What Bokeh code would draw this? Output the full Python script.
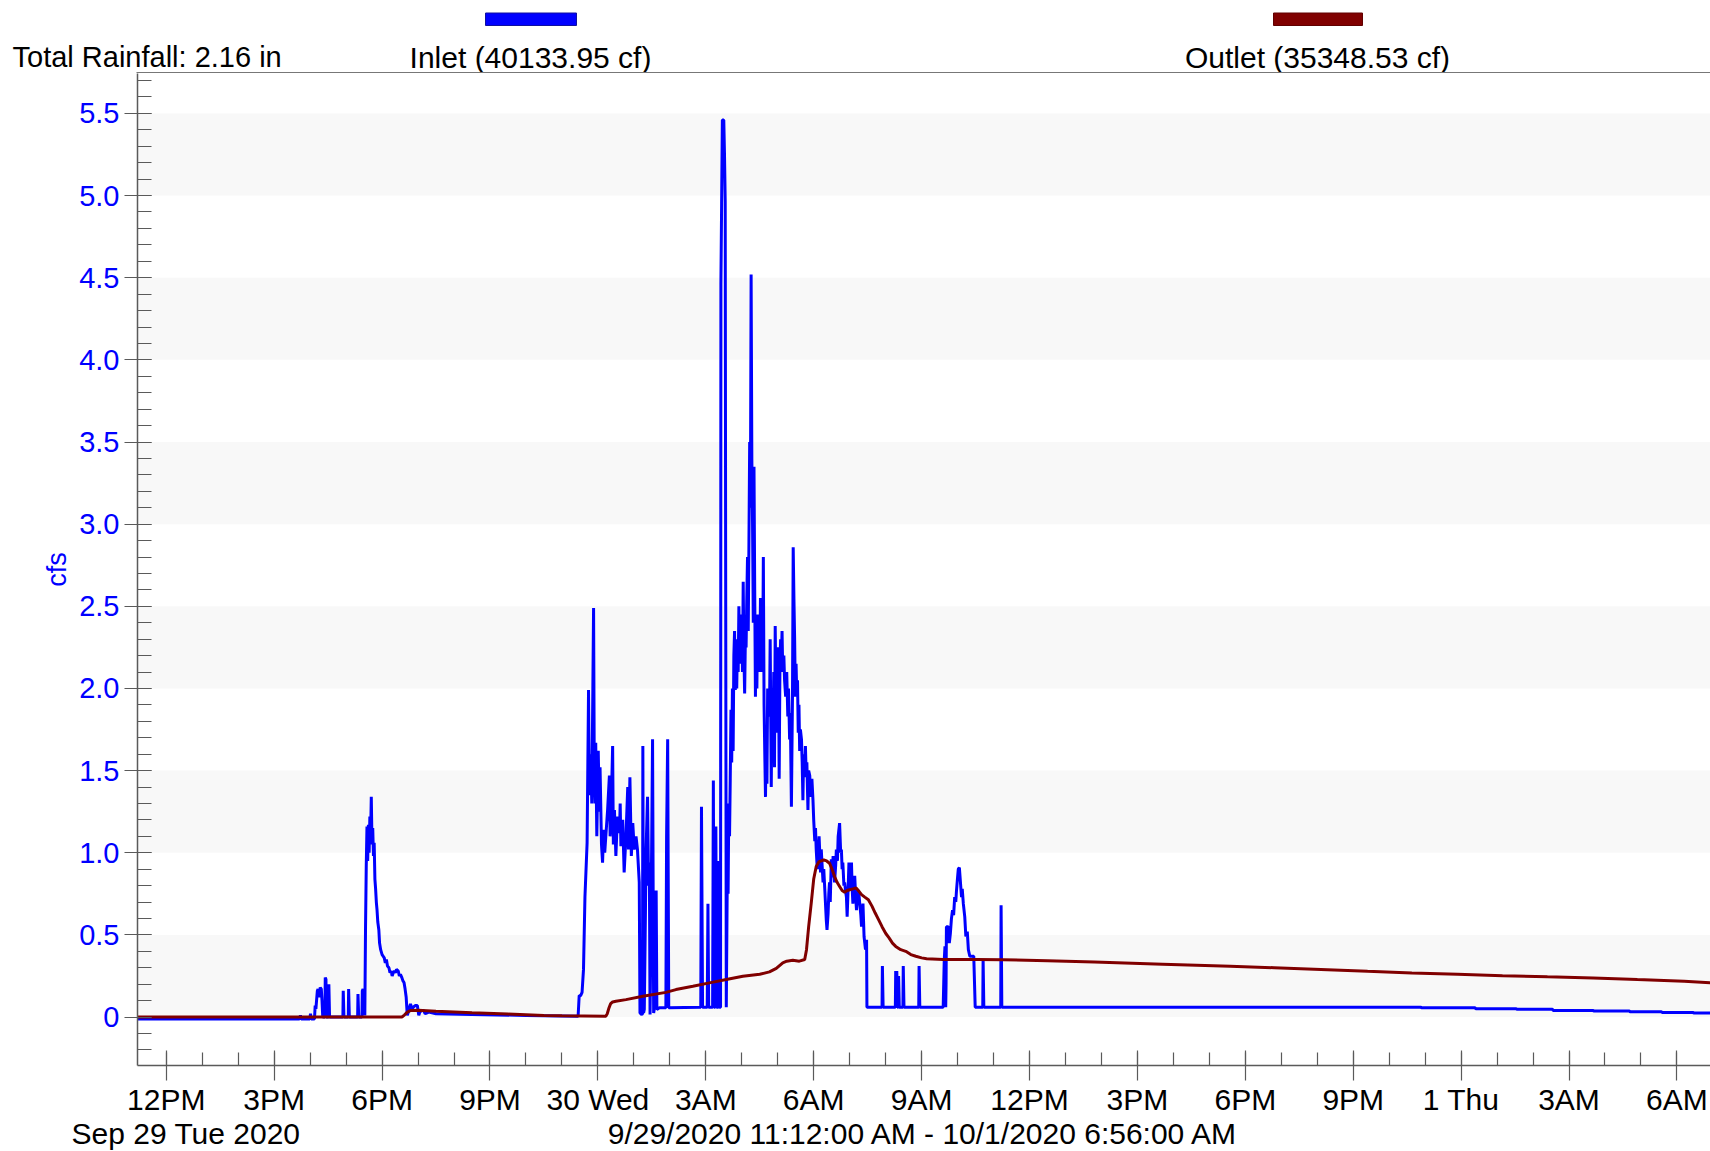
from bokeh.plotting import figure
from bokeh.layouts import column
from bokeh.models import FixedTicker, PrintfTickFormatter, BoxAnnotation, Range1d
from bokeh.core.properties import value
from bokeh.embed import file_html
from bokeh.resources import INLINE

# ---------------- data (x = hours since 2020-09-29 00:00) ----------------
start_hour = 11.2          # 9/29/2020 11:12 AM
end_hour = 54.9333         # 10/1/2020 6:56 AM

x_tick_hours = [12, 15, 18, 21, 24, 27, 30, 33, 36, 39, 42, 45, 48, 51, 54]
x_tick_labels = ["12PM", "3PM", "6PM", "9PM", "30 Wed", "3AM", "6AM", "9AM",
                 "12PM", "3PM", "6PM", "9PM", "1 Thu", "3AM", "6AM"]
y_ticks = [0, 0.5, 1.0, 1.5, 2.0, 2.5, 3.0, 3.5, 4.0, 4.5, 5.0, 5.5]
band_bottoms = [0, 1.0, 2.0, 3.0, 4.0, 5.0]

inlet_points = [
    (11.20, -0.012), (15.70, -0.012), (15.73, 0.01), (15.75, -0.012), (15.99, -0.012),
    (16.01, 0.02), (16.03, -0.012), (16.12, -0.012),
    # first storm
    (16.14, 0.07), (16.16, 0.05), (16.20, 0.16), (16.22, 0.17), (16.25, 0.12), (16.28, 0.18),
    (16.31, 0.17), (16.33, 0.10), (16.35, 0.0), (16.41, 0.0), (16.42, 0.24), (16.44, 0.23),
    (16.45, 0.0), (16.51, 0.0), (16.52, 0.20), (16.54, 0.0), (16.91, 0.0), (16.92, 0.16),
    (16.94, 0.0), (17.06, 0.0), (17.07, 0.17), (17.09, 0.0), (17.32, 0.0), (17.33, 0.14),
    (17.35, 0.0), (17.44, 0.0), (17.45, 0.16), (17.47, 0.17), (17.49, 0.15), (17.50, 0.17),
    (17.52, 0.01), (17.54, 0.55), (17.56, 0.92), (17.58, 1.16), (17.60, 0.95), (17.62, 1.17),
    (17.64, 1.00), (17.66, 1.22), (17.68, 1.10), (17.70, 1.34), (17.72, 1.05), (17.74, 1.15),
    (17.76, 0.98), (17.78, 1.06), (17.80, 0.84), (17.82, 0.78), (17.84, 0.70), (17.86, 0.65),
    (17.88, 0.58), (17.91, 0.53), (17.93, 0.45), (17.96, 0.41), (18.00, 0.38), (18.03, 0.37),
    (18.06, 0.36), (18.09, 0.33), (18.12, 0.35), (18.15, 0.31), (18.19, 0.30), (18.22, 0.27),
    (18.25, 0.28), (18.28, 0.25), (18.31, 0.27), (18.34, 0.28), (18.37, 0.27), (18.40, 0.29),
    (18.45, 0.28), (18.48, 0.25), (18.51, 0.26), (18.55, 0.24), (18.58, 0.22), (18.61, 0.21),
    (18.64, 0.17), (18.67, 0.12), (18.70, 0.01), (18.73, 0.03), (18.76, 0.06), (18.79, 0.08),
    (18.83, 0.05), (18.87, 0.06), (18.92, 0.07), (18.98, 0.07), (19.02, 0.01), (19.05, 0.03),
    (19.10, 0.04), (19.15, 0.04), (19.20, 0.02), (19.30, 0.03), (19.50, 0.02),
    (20.50, 0.015), (22.00, 0.01), (23.45, 0.005),
    # second storm
    (23.48, 0.13), (23.52, 0.13), (23.56, 0.15), (23.60, 0.29), (23.64, 0.73), (23.70, 1.06),
    (23.74, 1.99), (23.76, 1.45), (23.78, 1.35), (23.80, 1.60), (23.83, 1.30), (23.86, 2.00),
    (23.88, 2.49), (23.90, 1.48), (23.92, 1.30), (23.94, 1.67), (23.97, 1.10), (24.01, 1.62),
    (24.04, 1.25), (24.06, 1.52), (24.10, 1.05), (24.13, 0.94), (24.16, 1.14), (24.19, 1.00),
    (24.22, 1.10), (24.27, 1.26), (24.32, 1.47), (24.34, 1.10), (24.36, 1.18), (24.41, 1.65),
    (24.43, 1.05), (24.46, 1.26), (24.50, 0.98), (24.53, 1.15), (24.55, 1.22), (24.60, 1.12),
    (24.62, 1.30), (24.64, 1.04), (24.69, 1.20), (24.73, 0.88), (24.78, 1.10), (24.83, 1.40),
    (24.85, 1.02), (24.89, 1.46), (24.93, 0.98), (24.97, 1.18), (25.01, 1.02), (25.06, 1.10),
    (25.10, 1.02), (25.15, 0.82), (25.17, 0.025), (25.22, 0.015), (25.24, 0.02), (25.25, 1.65),
    (25.27, 0.025), (25.29, 0.046), (25.32, 0.60), (25.34, 1.02), (25.38, 1.34), (25.41, 0.80),
    (25.43, 0.94), (25.45, 0.015), (25.47, 0.40), (25.49, 0.92), (25.52, 1.69), (25.55, 0.025),
    (25.58, 0.066), (25.62, 0.77), (25.64, 0.046), (25.71, 0.056), (25.89, 0.056), (25.91, 1.10),
    (25.94, 1.69), (25.97, 0.056),
    (26.86, 0.06), (26.88, 1.28), (26.91, 0.06), (27.04, 0.06), (27.06, 0.69), (27.08, 0.06),
    (27.19, 0.06), (27.21, 1.44), (27.23, 0.06), (27.26, 0.06), (27.28, 1.16), (27.30, 0.06),
    (27.35, 0.06), (27.36, 0.95), (27.38, 0.06), (27.41, 0.06),
    # main storm
    (27.42, 4.46), (27.44, 4.95), (27.46, 5.46), (27.50, 5.46), (27.52, 5.25), (27.54, 4.96),
    (27.55, 3.11), (27.57, 0.06),
    (27.60, 0.92), (27.62, 0.75), (27.64, 1.30), (27.66, 1.10), (27.68, 1.45), (27.70, 1.87),
    (27.72, 1.55), (27.74, 2.00), (27.76, 1.62), (27.78, 2.20), (27.80, 2.35), (27.82, 1.99),
    (27.84, 2.25), (27.86, 2.00), (27.88, 2.30), (27.90, 2.10), (27.92, 2.50), (27.94, 2.15),
    (27.96, 2.35), (27.98, 2.20), (28.00, 2.45), (28.02, 2.10), (28.04, 2.65), (28.06, 2.20),
    (28.08, 1.97), (28.10, 2.30), (28.12, 2.25), (28.14, 2.55), (28.16, 2.80), (28.18, 2.35),
    (28.20, 2.90), (28.22, 3.50), (28.24, 3.10), (28.26, 4.52), (28.28, 3.40), (28.30, 3.00),
    (28.32, 2.40), (28.34, 3.35), (28.36, 2.60), (28.38, 1.95), (28.40, 2.40), (28.42, 2.00),
    (28.44, 2.45), (28.46, 2.15), (28.48, 2.30), (28.50, 2.10), (28.52, 2.55), (28.54, 2.15),
    (28.56, 2.50), (28.58, 2.10), (28.60, 2.80), (28.62, 1.90), (28.64, 1.60), (28.66, 1.34),
    (28.68, 1.75), (28.70, 1.42), (28.72, 2.00), (28.74, 1.85), (28.77, 1.83), (28.79, 2.30),
    (28.82, 1.40), (28.84, 1.95), (28.87, 1.77), (28.89, 2.10), (28.91, 1.52), (28.93, 2.38),
    (28.96, 1.73), (28.98, 2.15), (29.00, 1.97), (29.02, 2.25), (29.04, 1.45), (29.06, 2.10),
    (29.08, 2.30), (29.10, 2.15), (29.12, 2.35), (29.14, 2.10), (29.17, 2.20), (29.19, 2.05),
    (29.22, 1.95), (29.25, 2.10), (29.28, 1.83), (29.30, 2.00), (29.33, 1.69), (29.35, 1.85),
    (29.38, 1.28), (29.41, 1.95), (29.43, 2.86), (29.45, 2.55), (29.47, 2.30), (29.49, 1.95),
    (29.51, 2.15), (29.53, 1.95), (29.55, 2.05), (29.57, 1.73), (29.59, 1.90), (29.61, 1.62),
    (29.63, 1.75), (29.66, 1.69), (29.68, 1.55), (29.70, 1.32), (29.72, 1.60), (29.75, 1.46),
    (29.77, 1.65), (29.79, 1.48), (29.81, 1.55), (29.84, 1.26), (29.86, 1.50), (29.89, 1.47),
    (29.91, 1.38), (29.93, 1.34), (29.95, 1.45), (29.98, 1.32), (30.00, 1.20), (30.03, 1.07),
    (30.05, 1.15), (30.07, 1.02), (30.10, 0.90), (30.12, 0.94), (30.15, 1.10), (30.19, 0.88),
    (30.21, 1.02), (30.26, 0.82), (30.28, 0.90), (30.31, 0.77), (30.35, 0.59), (30.37, 0.53),
    (30.40, 0.63), (30.42, 0.75), (30.44, 0.82), (30.46, 0.70), (30.49, 0.96), (30.51, 0.85),
    (30.54, 0.98), (30.58, 0.82), (30.61, 0.92), (30.63, 1.02), (30.66, 0.95), (30.68, 1.10),
    (30.72, 1.18), (30.75, 1.00), (30.77, 1.02), (30.79, 0.90), (30.81, 0.94), (30.84, 0.80),
    (30.86, 0.82), (30.89, 0.76), (30.91, 0.73), (30.93, 0.61), (30.96, 0.80), (30.98, 0.94),
    (31.00, 0.82), (31.02, 0.77), (31.05, 0.94), (31.07, 0.78), (31.09, 0.69), (31.12, 0.80),
    (31.14, 0.86), (31.17, 0.72), (31.19, 0.65), (31.21, 0.72), (31.23, 0.77), (31.26, 0.74),
    (31.28, 0.69), (31.31, 0.62), (31.33, 0.55), (31.35, 0.62), (31.37, 0.69), (31.40, 0.49),
    (31.44, 0.41), (31.47, 0.47), (31.48, 0.06),
    # tail
    (31.90, 0.06), (31.91, 0.31), (31.93, 0.06), (32.27, 0.06), (32.28, 0.28), (32.30, 0.06),
    (32.31, 0.28), (32.33, 0.06), (32.35, 0.06), (32.36, 0.25), (32.38, 0.06), (32.48, 0.06),
    (32.49, 0.31), (32.51, 0.06), (32.92, 0.06), (32.93, 0.31), (32.95, 0.06), (33.60, 0.06),
    (33.63, 0.35), (33.65, 0.43), (33.67, 0.06), (33.68, 0.20), (33.69, 0.55), (33.74, 0.55),
    (33.77, 0.45), (33.80, 0.51), (33.83, 0.60), (33.86, 0.65), (33.89, 0.62), (33.92, 0.73),
    (33.95, 0.70), (33.97, 0.77), (34.00, 0.85), (34.02, 0.90), (34.05, 0.91), (34.08, 0.82),
    (34.11, 0.73), (34.13, 0.78), (34.16, 0.69), (34.20, 0.61), (34.23, 0.49), (34.27, 0.52),
    (34.30, 0.41), (34.34, 0.37), (34.39, 0.37), (34.45, 0.37), (34.49, 0.06), (34.70, 0.06),
    (34.71, 0.35), (34.73, 0.06), (35.20, 0.06), (35.21, 0.68), (35.23, 0.06), (46.88, 0.06),
    (46.90, 0.056), (48.39, 0.056), (48.41, 0.05), (49.53, 0.05), (49.55, 0.047), (50.54, 0.047),
    (50.56, 0.04), (51.67, 0.04), (51.69, 0.036), (52.68, 0.036), (52.70, 0.032), (53.57, 0.032),
    (53.59, 0.028), (54.45, 0.028), (54.47, 0.024), (54.93, 0.024),
]

outlet_points = [
    (11.20, 0.0), (18.55, 0.0), (18.62, 0.012), (18.70, 0.03), (18.80, 0.04), (19.00, 0.042),
    (19.50, 0.035), (20.50, 0.026), (21.50, 0.018), (22.50, 0.01), (23.00, 0.008), (24.22, 0.005),
    (24.26, 0.02), (24.30, 0.05), (24.35, 0.08), (24.41, 0.092), (24.50, 0.096), (24.78, 0.106),
    (25.25, 0.126), (25.89, 0.15), (26.17, 0.167), (26.64, 0.187), (27.10, 0.208), (27.57, 0.228),
    (28.03, 0.248), (28.50, 0.26), (28.77, 0.275), (28.96, 0.296), (29.14, 0.33), (29.25, 0.34),
    (29.42, 0.345), (29.60, 0.34), (29.75, 0.35), (29.80, 0.41), (29.86, 0.55), (29.93, 0.69),
    (30.00, 0.84), (30.07, 0.916), (30.15, 0.946), (30.28, 0.956), (30.36, 0.95), (30.44, 0.936),
    (30.51, 0.90), (30.58, 0.855), (30.65, 0.82), (30.72, 0.795), (30.79, 0.77), (30.86, 0.76),
    (30.93, 0.77), (31.00, 0.775), (31.09, 0.78), (31.18, 0.785), (31.26, 0.765), (31.33, 0.745),
    (31.42, 0.73), (31.52, 0.714), (31.62, 0.675), (31.71, 0.633), (31.81, 0.59), (31.90, 0.55),
    (32.00, 0.51), (32.10, 0.48), (32.19, 0.45), (32.28, 0.43), (32.42, 0.41), (32.56, 0.40),
    (32.70, 0.38), (32.84, 0.37), (33.00, 0.36), (33.14, 0.355), (33.60, 0.35), (34.53, 0.35),
    (35.27, 0.349), (36.50, 0.342), (37.80, 0.335), (39.70, 0.322), (41.58, 0.309), (42.80, 0.30),
    (44.10, 0.289), (45.40, 0.278), (46.63, 0.268), (47.90, 0.26), (49.15, 0.252), (50.40, 0.245),
    (51.67, 0.238), (52.90, 0.228), (54.20, 0.218), (54.93, 0.208),
]

inlet_hours = [pt[0] for pt in inlet_points]
inlet_cfs = [pt[1] for pt in inlet_points]
outlet_hours = [pt[0] for pt in outlet_points]
outlet_cfs = [pt[1] for pt in outlet_points]

total_rain_text = "Total Rainfall: 2.16 in"
series_labels = ["Inlet (40133.95 cf)", "Outlet (35348.53 cf)"]
date_label = "Sep 29 Tue 2020"
range_label = "9/29/2020 11:12:00 AM - 10/1/2020 6:56:00 AM"

INLET_COLOR = "#0000ff"
OUTLET_COLOR = "#800000"
FONT = "Liberation Sans"
TEXT_SIZE = "30px"
AXIS_GRAY = "#5a5a5a"
BORDER_GRAY = "#777777"
W = 1710


def blank_panel(height, y_top, y_bottom):
    """A text-only strip whose coordinates are page pixels."""
    f = figure(width=W, height=height, output_backend="svg", toolbar_location=None,
               x_range=Range1d(0, W), y_range=Range1d(y_bottom, y_top),
               x_axis_location=None, y_axis_location=None, min_border=0,
               outline_line_color=None, background_fill_color="white",
               border_fill_color="white", frame_align=False)
    f.grid.visible = False
    return f


def put_text(f, x, y, text, align, size=TEXT_SIZE):
    f.text(x=[x], y=[y], text=[text], text_align=align, text_baseline="alphabetic",
           text_font=value(FONT), text_font_size=size, text_color="black")


# ---------------- header (legend strip) ----------------
header = blank_panel(73, 0, 73)
put_text(header, 12, 56.5, total_rain_text, "left", "29px")
put_text(header, 530, 56.5, series_labels[0], "center")
put_text(header, 1317, 56.5, series_labels[1], "center")
header.quad(left=[485, 1273], right=[576, 1362], top=[12.5, 12.5], bottom=[25, 25],
            fill_color=[INLET_COLOR, OUTLET_COLOR], line_color=["#1010a0", "#600000"],
            line_width=1)
# top border of the plotting area (no border on the right edge)
header.quad(left=[136], right=[W], top=[71.5], bottom=[73],
            fill_color=BORDER_GRAY, line_color=None)

# ---------------- main chart ----------------
p = figure(width=W, height=1045, output_backend="svg", toolbar_location=None,
           x_range=Range1d(start_hour, end_hour), y_range=Range1d(-0.295, 5.743),
           min_border_left=137, min_border_top=0, min_border_right=0,
           min_border_bottom=52, background_fill_color="white",
           border_fill_color="white", outline_line_color=None, frame_align=False)

p.xgrid.grid_line_color = None
p.ygrid.grid_line_color = None

for b in band_bottoms:
    p.add_layout(BoxAnnotation(bottom=b, top=b + 0.5, fill_color="#f8f8f8",
                               fill_alpha=1.0, line_color=None, level="underlay"))

p.line(inlet_hours, inlet_cfs, line_color=INLET_COLOR, line_width=3)
p.line(outlet_hours, outlet_cfs, line_color=OUTLET_COLOR, line_width=3)

# x axis
xa = p.xaxis[0]
xa.ticker = FixedTicker(ticks=x_tick_hours, minor_ticks=list(range(12, 55)))
xa.major_label_overrides = dict(zip(x_tick_hours, x_tick_labels))
xa.major_label_text_font = FONT
xa.major_label_text_font_size = TEXT_SIZE
xa.major_label_text_color = "black"
xa.major_label_standoff = 2
xa.major_tick_in = 15
xa.major_tick_out = 15
xa.minor_tick_in = 13
xa.minor_tick_out = 0
xa.axis_line_color = AXIS_GRAY
xa.axis_line_width = 1.5
xa.major_tick_line_color = AXIS_GRAY
xa.minor_tick_line_color = AXIS_GRAY
xa.major_tick_line_width = 1.2
xa.minor_tick_line_width = 1.2

# y axis
ya = p.yaxis[0]
ya.ticker = FixedTicker(ticks=y_ticks,
                        minor_ticks=[round(-0.2 + 0.1 * i, 1) for i in range(60)])
ya.formatter = PrintfTickFormatter(format="%.1f")
ya.major_label_overrides = {0: "0"}
ya.major_label_text_font = FONT
ya.major_label_text_font_size = "29px"
ya.major_label_text_color = INLET_COLOR
ya.major_label_standoff = 5
ya.major_tick_in = 14
ya.major_tick_out = 13
ya.minor_tick_in = 14
ya.minor_tick_out = 0
ya.axis_line_color = AXIS_GRAY
ya.axis_line_width = 1.5
ya.major_tick_line_color = AXIS_GRAY
ya.minor_tick_line_color = AXIS_GRAY
ya.major_tick_line_width = 1.2
ya.minor_tick_line_width = 1.2
ya.axis_label = "cfs"
ya.axis_label_text_font = FONT
ya.axis_label_text_font_style = "normal"
ya.axis_label_text_font_size = "27px"
ya.axis_label_text_color = INLET_COLOR
ya.axis_label_standoff = 4

# ---------------- footer ----------------
footer = blank_panel(1151 - 73 - 1045, 73 + 1045, 1151)
put_text(footer, 71, 1133.2, date_label, "left")
put_text(footer, 923, 1133.2, range_label, "center")

layout = column(header, p, footer, spacing=0)

open("out.html", "w").write(file_html(layout, INLINE))
